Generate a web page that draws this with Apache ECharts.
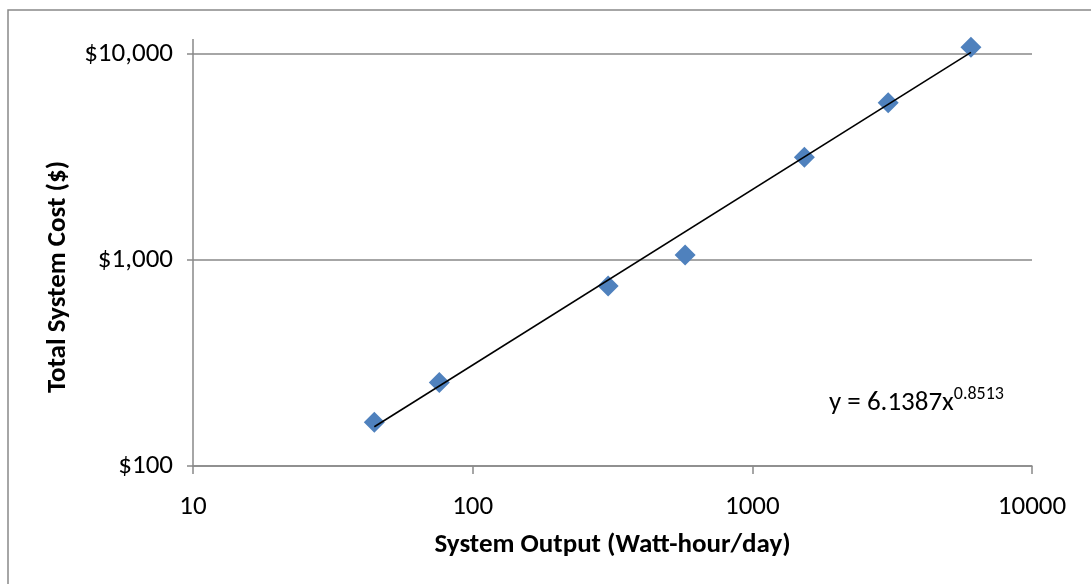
<!DOCTYPE html>
<html>
<head>
<meta charset="utf-8">
<script src="https://cdn.jsdelivr.net/npm/echarts@6/dist/echarts.min.js"></script>
<style>
html, body { margin: 0; padding: 0; background: #fff; }
#plot { width: 1091px; height: 584px; }
</style>
</head>
<body>
<div id="plot"></div>
<script>
// system output (Wh/day) and total cost ($)
var outputWh = [44.5, 76, 305, 575, 1535, 3060, 6050];
var costUsd = [163, 254, 748, 1057, 3150, 5800, 10780];
// power trendline y = 6.1387x^0.8513, its two ends
var trendX = [44.5, 6050];
var trendY = [155, 10180];
var xTicks = [10, 100, 1000, 10000];
var yTicks = [100, 1000, 10000];

var font = 'Carlito, Lato, sans-serif';
var gray = '#898989';

function pairs (xs, ys) {
	var out = [];
	for (var i = 0; i < xs.length; i++) out.push([xs[i], ys[i]]);
	return out;
}

function money (v) {
	return '$' + Math.round(v).toString().replace(/\B(?=(\d{3})+(?!\d))/g, ',');
}

var option = {
	animation: false,
	backgroundColor: '#fff',
	textStyle: { fontFamily: font },
	grid: { left: 193, right: 59, top: 54, bottom: 118 },
	xAxis: {
		type: 'log',
		min: xTicks[0],
		max: xTicks[xTicks.length - 1],
		name: 'System Output (Watt-hour/day)',
		nameLocation: 'middle',
		nameGap: 66,
		nameTextStyle: { fontFamily: font, fontSize: 27, fontWeight: 'bold', color: '#000' },
		axisLine: { lineStyle: { color: gray, width: 1.5 } },
		axisTick: { show: true, length: 8, lineStyle: { color: gray, width: 1.5 } },
		minorTick: { show: false },
		axisLabel: {
			fontFamily: font, fontSize: 27, color: '#000', margin: 28,
			formatter: function (v) { return String(Math.round(v)); }
		},
		splitLine: { show: false }
	},
	yAxis: {
		type: 'log',
		min: yTicks[0],
		max: yTicks[yTicks.length - 1],
		name: 'Total System Cost ($)',
		nameLocation: 'middle',
		nameGap: 121,
		nameRotate: 90,
		nameTextStyle: { fontFamily: font, fontSize: 27, fontWeight: 'bold', color: '#000', padding: [0, 34, 0, 0] },
		axisLine: { show: true, onZero: false, lineStyle: { color: gray, width: 1.5 } },
		axisTick: { show: true, length: 6, lineStyle: { color: gray, width: 1.5 } },
		axisLabel: { fontFamily: font, fontSize: 27, color: '#000', margin: 20, formatter: money },
		splitLine: { show: true, lineStyle: { color: gray, width: 1.5 } }
	},
	graphic: [
		{
			type: 'rect',
			shape: { x: 8, y: 10, width: 1200, height: 700 },
			style: { fill: 'none', stroke: gray, lineWidth: 1.5 },
			silent: true
		},
		{
			// y axis line runs a little past the top gridline
			type: 'line',
			shape: { x1: 193, y1: 39, x2: 193, y2: 54 },
			style: { stroke: gray, lineWidth: 1.5 },
			silent: true
		},
		{
			type: 'text',
			left: 829,
			top: 385,
			style: {
				text: '{b|y = 6.1387x}{s|0.8513}',
				rich: {
					b: { fontFamily: font, fontSize: 27, fill: '#000', verticalAlign: 'bottom', lineHeight: 32 },
					s: { fontFamily: font, fontSize: 18, fill: '#000', verticalAlign: 'top', lineHeight: 18 }
				}
			}
		}
	],
	series: [
		{
			name: 'Trendline',
			type: 'line',
			data: pairs(trendX, trendY),
			showSymbol: false,
			symbol: 'none',
			clip: false,
			lineStyle: { color: '#000', width: 1.6 },
			z: 3
		},
		{
			name: 'Cost',
			type: 'scatter',
			data: pairs(outputWh, costUsd),
			symbol: 'diamond',
			symbolSize: 21,
			clip: false,
			itemStyle: { color: '#4F81BD', opacity: 1 },
			z: 2
		}
	]
};

var myChart = echarts.init(document.getElementById('plot'));
myChart.setOption(option);
</script>
</body>
</html>
